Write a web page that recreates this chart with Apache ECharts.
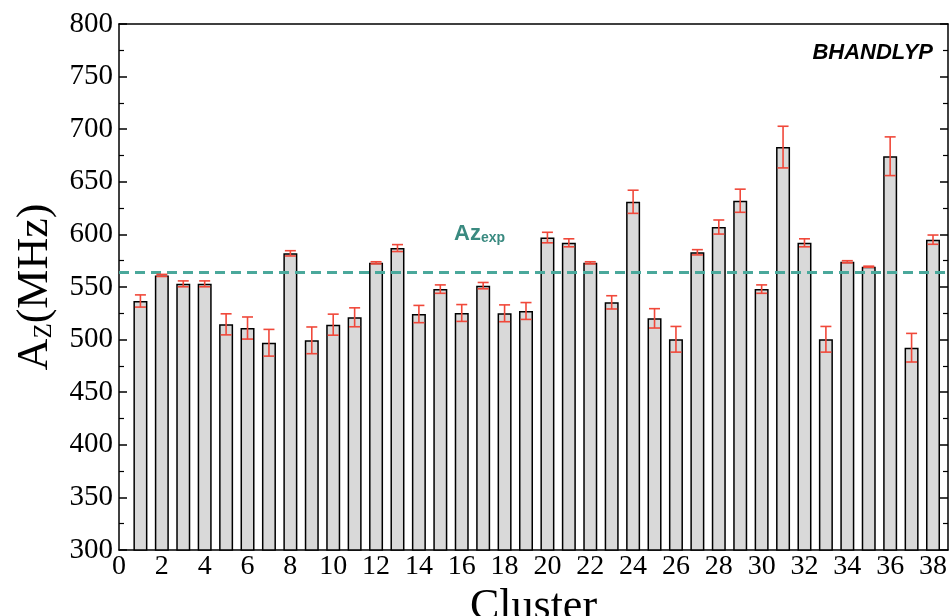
<!DOCTYPE html>
<html>
<head>
<meta charset="utf-8">
<script src="https://cdn.jsdelivr.net/npm/echarts@6/dist/echarts.min.js"></script>
<style>html,body{margin:0;padding:0;background:#fff}#c{width:949px;height:616px}</style>
</head>
<body>
<div id="c"></div>
<script>
const clusters = [1,2,3,4,5,6,7,8,9,10,11,12,13,14,15,16,17,18,19,20,21,22,23,24,25,26,27,28,29,30,31,32,33,34,35,36,37,38];
const azValues = [536.7,561,553,553,514.5,511,497,582,499.3,514.2,521.2,573,587,524.3,548,525.3,551.3,525,527.2,597,592,573,535.4,631,520.2,500.3,583,607,632,548,683,592,500.3,574,569.3,674.3,492.3,595];
const azErrors = [5.8,1,2.8,2.8,10,10.5,12.7,2.5,12.7,10,9,1,3.3,8.2,4,8,3,8,8,5,3.8,1,6.3,11,9.2,12.2,2.5,6.7,11,4,19.8,3.8,12.2,1,0.5,18.4,13.6,4.4];
const azExp = 564;
const xTicks = [0,2,4,6,8,10,12,14,16,18,20,22,24,26,28,30,32,34,36,38];

const chart = echarts.init(document.getElementById('c'), null, {renderer:'canvas'});
const serif = 'Liberation Serif';
const barData = clusters.map((c,i)=>[c, azValues[i]]);
const errData = clusters.map((c,i)=>[c, azValues[i], azErrors[i]]);

chart.setOption({
  animation:false,
  backgroundColor:'#fff',
  grid:{left:119, right:1, top:24, bottom:66, containLabel:false, outerBoundsMode:'none'},
  xAxis:[{
    type:'value', min:0, max:38.7, interval:2, position:'bottom',
    axisLine:{show:true, onZero:false, lineStyle:{color:'#000', width:1.5}},
    axisTick:{show:false}, splitLine:{show:false},
    axisLabel:{color:'#000', fontFamily:serif, fontSize:28, margin:3,
      formatter:v => xTicks.indexOf(v) >= 0 ? String(v) : '', showMaxLabel:false},
    name:'Cluster', nameLocation:'middle', nameGap:21,
    nameTextStyle:{fontFamily:serif, fontSize:44, color:'#000'}
  },{
    type:'value', min:0, max:38.7, position:'top',
    axisLine:{show:true, onZero:false, lineStyle:{color:'#000', width:1.5}},
    axisTick:{show:false}, axisLabel:{show:false}, splitLine:{show:false}
  }],
  yAxis:[{
    type:'value', min:300, max:800, interval:50, position:'left',
    axisLine:{show:true, onZero:false, lineStyle:{color:'#000', width:1.5}},
    axisTick:{show:true, inside:true, length:8, lineStyle:{color:'#000', width:1.5}},
    minorTick:{show:true, splitNumber:2, length:5, lineStyle:{color:'#000', width:1.2}},
    splitLine:{show:false},
    axisLabel:{color:'#000', fontFamily:serif, fontSize:29, margin:6},
    name:'{a|A}{s|Z}{a|(MHz)}', nameLocation:'middle', nameGap:62, nameRotate:90,
    nameTextStyle:{fontFamily:serif, color:'#000',
      rich:{
        a:{fontFamily:serif, fontSize:44, lineHeight:44, color:'#000', verticalAlign:'top'},
        s:{fontFamily:serif, fontSize:25, lineHeight:25, color:'#000', verticalAlign:'bottom', padding:[26,0,0,0]}
      }}
  },{
    type:'value', min:300, max:800, interval:50, position:'right',
    axisLine:{show:true, onZero:false, lineStyle:{color:'#000', width:1.5}},
    axisTick:{show:true, inside:true, length:8, lineStyle:{color:'#000', width:1.5}},
    minorTick:{show:true, splitNumber:2, length:5, lineStyle:{color:'#000', width:1.2}},
    axisLabel:{show:false}, splitLine:{show:false}
  }],
  series:[{
    type:'bar', xAxisIndex:0, yAxisIndex:0, data:barData, barWidth:14,
    itemStyle:{color:'#d9d9d9', borderColor:'#000', borderWidth:1.5},
    markLine:{
      silent:true, symbol:'none', label:{show:false},
      lineStyle:{color:'#4aa89b', width:3, type:[10,6]},
      data:[{yAxis:azExp}]
    },
    z:2
  },{
    type:'custom', xAxisIndex:0, yAxisIndex:0, data:errData, z:5,
    renderItem:function(params, api){
      const x = api.value(0), v = api.value(1), e = api.value(2);
      const top = api.coord([x, v+e]);
      const bot = api.coord([x, v-e]);
      const hw = 5.5;
      const st = {stroke:'#f0483a', lineWidth:1.6};
      return {type:'group', children:[
        {type:'line', shape:{x1:top[0], y1:top[1], x2:bot[0], y2:bot[1]}, style:st},
        {type:'line', shape:{x1:top[0]-hw, y1:top[1], x2:top[0]+hw, y2:top[1]}, style:st},
        {type:'line', shape:{x1:bot[0]-hw, y1:bot[1], x2:bot[0]+hw, y2:bot[1]}, style:st}
      ]};
    }
  }],
  graphic:[{
    type:'text', left:454, top:223,
    style:{text:'{a|Az}{b|exp}', rich:{
      a:{fontFamily:'Liberation Sans', fontWeight:'bold', fontSize:22, lineHeight:22, fill:'#3a8a80', verticalAlign:'bottom'},
      b:{fontFamily:'Liberation Sans', fontWeight:'bold', fontSize:14, lineHeight:14, fill:'#3a8a80', verticalAlign:'bottom'}
    }}
  },{
    type:'text', right:16, top:42,
    style:{text:'BHANDLYP', fontFamily:'Liberation Sans', fontWeight:'bold', fontStyle:'italic', fontSize:22, fill:'#000'}
  }]
});
</script>
</body>
</html>
